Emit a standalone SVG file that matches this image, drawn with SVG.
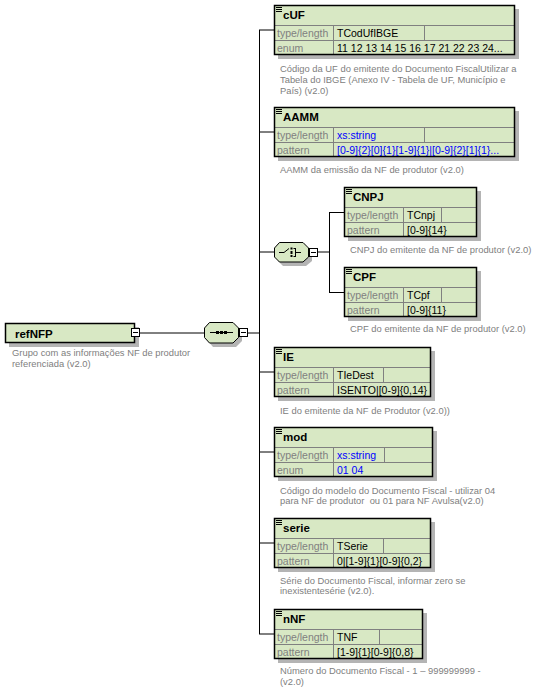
<svg xmlns="http://www.w3.org/2000/svg" width="548" height="693" viewBox="0 0 548 693">
<style>
.bg{fill:#ffffff}
.sh{fill:#b4b4b4}
.box{fill:#d8e8c4}
.ol{fill:none;stroke:#000;stroke-width:1.5}
.gr{fill:none;stroke:#808080;stroke-width:1}
.ic{fill:none;stroke:#000;stroke-width:1}
.cn{fill:none;stroke:#000;stroke-width:1}
.nm{font-family:"Liberation Sans",Arial,sans-serif;font-size:11.5px;font-weight:bold;fill:#000}
.lb{font-family:"Liberation Sans",Arial,sans-serif;font-size:10.5px;fill:#808080}
.vk{font-family:"Liberation Sans",Arial,sans-serif;font-size:10.5px;fill:#000}
.vb{font-family:"Liberation Sans",Arial,sans-serif;font-size:10.5px;fill:#0000ff}
.ds{font-family:"Liberation Sans",Arial,sans-serif;font-size:9.4px;fill:#808080;white-space:pre}
.mb{fill:#fff;stroke:#000;stroke-width:1}
</style>
<rect class="bg" x="0" y="0" width="548" height="693"/>

<g id="connectors">
<path class="cn" d="M140,333H204 M248,333H259 M259.5,30V634 M259,30H274 M259,132H274 M259,252H274 M259,372H274 M259,452H274 M259,543H274 M259,634H274 M318,252H329 M329.5,212V292 M329,212.5H344 M329,292.5H344"/>
</g>

<g id="node-refNFP">
<rect class="sh" x="9" y="327" width="130" height="20"/>
<rect class="box" x="5" y="323" width="130" height="20"/>
<rect class="ol" x="5.5" y="323.5" width="129" height="19"/>
<text class="nm" x="15" y="337.5">refNFP</text>
<rect class="mb" x="131.5" y="328.5" width="8" height="8"/>
<path class="ic" d="M133,332.5H138"/>
<text class="ds" x="12" y="356">Grupo com as informações NF de produtor</text>
<text class="ds" x="12" y="367">referenciada (v2.0)</text>
</g>

<g id="node-sequence">
<polygon class="sh" points="213,326 234,326 242,332 242,341 236,347 213,347 208,341 208,332"/>
<polygon class="box" points="209.5,322.5 233,322.5 238.5,328 238.5,337.5 233,343 209.5,343 204.5,337.5 204.5,328" stroke="#000" stroke-width="1"/>
<path class="ic" d="M210,332.5H233"/>
<rect x="216" y="331" width="3" height="3" fill="#000"/>
<rect x="220" y="331" width="3" height="3" fill="#000"/>
<rect x="224" y="331" width="3" height="3" fill="#000"/>
<rect class="mb" x="239.5" y="328.5" width="8" height="8"/>
<path class="ic" d="M241,332.5H246"/>
</g>

<g id="node-choice">
<polygon class="sh" points="283,246 304,246 312,252 312,261 306,266 283,266 278,261 278,252"/>
<polygon class="box" points="279.5,242.5 303,242.5 308.5,248 308.5,257 303,262 279.5,262 274.5,257 274.5,248" stroke="#000" stroke-width="1"/>
<path class="ic" d="M279,252.5H284 L289,248.5 M295.5,248V257 M293.5,248.5H295.5 M293.5,256.5H295.5 M295.5,252.5H301"/>
<rect x="290.5" y="247.5" width="2" height="2" fill="#000"/>
<rect x="290.5" y="251" width="2" height="3" fill="#000"/>
<rect x="290.5" y="255" width="2" height="2" fill="#000"/>
<rect class="mb" x="309.5" y="248.5" width="8" height="8"/>
<path class="ic" d="M311,252.5H316"/>
</g>

<g id="node-cUF">
<rect class="sh" x="278" y="9" width="241" height="50"/>
<rect class="box" x="274" y="5" width="241" height="50"/>
<path class="gr" d="M274,25.5H515 M274,40.5H515 M333.5,25V55 M424.5,25V40"/>
<rect class="ol" x="274.5" y="5.5" width="240" height="49"/>
<path class="ic" d="M276,7.5H282 M276,9.5H282 M276,11.5H282"/>
<text class="nm" x="283" y="19">cUF</text>
<text class="lb" x="277" y="36.5">type/length</text>
<text class="lb" x="277" y="51.5">enum</text>
<text class="vk" x="337" y="36.5">TCodUfIBGE</text>
<text class="vk" x="337" y="51.5">11 12 13 14 15 16 17 21 22 23 24...</text>
<text class="ds" x="280" y="72">Código da UF do emitente do Documento FiscalUtilizar a</text>
<text class="ds" x="280" y="83">Tabela do IBGE (Anexo IV - Tabela de UF, Município e</text>
<text class="ds" x="280" y="94">País) (v2.0)</text>
</g>

<g id="node-AAMM">
<rect class="sh" x="278" y="111" width="241" height="50"/>
<rect class="box" x="274" y="107" width="241" height="50"/>
<path class="gr" d="M274,127.5H515 M274,142.5H515 M333.5,127V157 M424.5,127V142"/>
<rect class="ol" x="274.5" y="107.5" width="240" height="49"/>
<path class="ic" d="M276,109.5H282 M276,111.5H282 M276,113.5H282"/>
<text class="nm" x="283" y="121">AAMM</text>
<text class="lb" x="277" y="138.5">type/length</text>
<text class="lb" x="277" y="153.5">pattern</text>
<text class="vb" x="337" y="138.5">xs:string</text>
<text class="vb" x="337" y="153.5">[0-9]{2}[0]{1}[1-9]{1}|[0-9]{2}[1]{1}...</text>
<text class="ds" x="280" y="173">AAMM da emissão da NF de produtor (v2.0)</text>
</g>

<g id="node-CNPJ">
<rect class="sh" x="348" y="191" width="133" height="50"/>
<rect class="box" x="344" y="187" width="133" height="50"/>
<path class="gr" d="M344,207.5H477 M344,222.5H477 M403.5,207V237 M441.5,207V222"/>
<rect class="ol" x="344.5" y="187.5" width="132" height="49"/>
<path class="ic" d="M346,189.5H352 M346,191.5H352 M346,193.5H352"/>
<text class="nm" x="353" y="201">CNPJ</text>
<text class="lb" x="347" y="218.5">type/length</text>
<text class="lb" x="347" y="233.5">pattern</text>
<text class="vk" x="407" y="218.5">TCnpj</text>
<text class="vk" x="407" y="233.5">[0-9]{14}</text>
<text class="ds" x="350" y="253">CNPJ do emitente da NF de produtor (v2.0)</text>
</g>

<g id="node-CPF">
<rect class="sh" x="348" y="271" width="133" height="50"/>
<rect class="box" x="344" y="267" width="133" height="50"/>
<path class="gr" d="M344,287.5H477 M344,302.5H477 M403.5,287V317 M441.5,287V302"/>
<rect class="ol" x="344.5" y="267.5" width="132" height="49"/>
<path class="ic" d="M346,269.5H352 M346,271.5H352 M346,273.5H352"/>
<text class="nm" x="353" y="281">CPF</text>
<text class="lb" x="347" y="298.5">type/length</text>
<text class="lb" x="347" y="313.5">pattern</text>
<text class="vk" x="407" y="298.5">TCpf</text>
<text class="vk" x="407" y="313.5">[0-9]{11}</text>
<text class="ds" x="350" y="332">CPF do emitente da NF de produtor (v2.0)</text>
</g>

<g id="node-IE">
<rect class="sh" x="278" y="351" width="157" height="50"/>
<rect class="box" x="274" y="347" width="157" height="50"/>
<path class="gr" d="M274,367.5H431 M274,382.5H431 M333.5,367V397 M383.5,367V382"/>
<rect class="ol" x="274.5" y="347.5" width="156" height="49"/>
<path class="ic" d="M276,349.5H282 M276,351.5H282 M276,353.5H282"/>
<text class="nm" x="283" y="361">IE</text>
<text class="lb" x="277" y="378.5">type/length</text>
<text class="lb" x="277" y="393.5">pattern</text>
<text class="vk" x="337" y="378.5">TIeDest</text>
<text class="vk" x="337" y="393.5">ISENTO|[0-9]{0,14}</text>
<text class="ds" x="280" y="413.5">IE do emitente da NF de Produtor (v2.0))</text>
</g>

<g id="node-mod">
<rect class="sh" x="278" y="431" width="159" height="50"/>
<rect class="box" x="274" y="427" width="159" height="50"/>
<path class="gr" d="M274,447.5H433 M274,462.5H433 M333.5,447V477 M384.5,447V462"/>
<rect class="ol" x="274.5" y="427.5" width="158" height="49"/>
<path class="ic" d="M276,429.5H282 M276,431.5H282 M276,433.5H282"/>
<text class="nm" x="283" y="441">mod</text>
<text class="lb" x="277" y="458.5">type/length</text>
<text class="lb" x="277" y="473.5">enum</text>
<text class="vb" x="337" y="458.5">xs:string</text>
<text class="vb" x="337" y="473.5">01 04</text>
<text class="ds" x="280" y="493.5">Código do modelo do Documento Fiscal - utilizar 04</text>
<text class="ds" x="280" y="504" xml:space="preserve">para NF de produtor  ou 01 para NF Avulsa(v2.0)</text>
</g>

<g id="node-serie">
<rect class="sh" x="278" y="522" width="157" height="50"/>
<rect class="box" x="274" y="518" width="157" height="50"/>
<path class="gr" d="M274,538.5H431 M274,553.5H431 M333.5,538V568 M383.5,538V553"/>
<rect class="ol" x="274.5" y="518.5" width="156" height="49"/>
<path class="ic" d="M276,520.5H282 M276,522.5H282 M276,524.5H282"/>
<text class="nm" x="283" y="532">serie</text>
<text class="lb" x="277" y="549.5">type/length</text>
<text class="lb" x="277" y="564.5">pattern</text>
<text class="vk" x="337" y="549.5">TSerie</text>
<text class="vk" x="337" y="564.5">0|[1-9]{1}[0-9]{0,2}</text>
<text class="ds" x="280" y="583.5">Série do Documento Fiscal, informar zero se</text>
<text class="ds" x="280" y="594">inexistentesérie (v2.0).</text>
</g>

<g id="node-nNF">
<rect class="sh" x="278" y="613" width="149" height="50"/>
<rect class="box" x="274" y="609" width="149" height="50"/>
<path class="gr" d="M274,629.5H423 M274,644.5H423 M333.5,629V659 M379.5,629V644"/>
<rect class="ol" x="274.5" y="609.5" width="148" height="49"/>
<path class="ic" d="M276,611.5H282 M276,613.5H282 M276,615.5H282"/>
<text class="nm" x="283" y="623">nNF</text>
<text class="lb" x="277" y="640.5">type/length</text>
<text class="lb" x="277" y="655.5">pattern</text>
<text class="vk" x="337" y="640.5">TNF</text>
<text class="vk" x="337" y="655.5">[1-9]{1}[0-9]{0,8}</text>
<text class="ds" x="280" y="674">Número do Documento Fiscal - 1 – 999999999 -</text>
<text class="ds" x="280" y="685">(v2.0)</text>
</g>
</svg>
